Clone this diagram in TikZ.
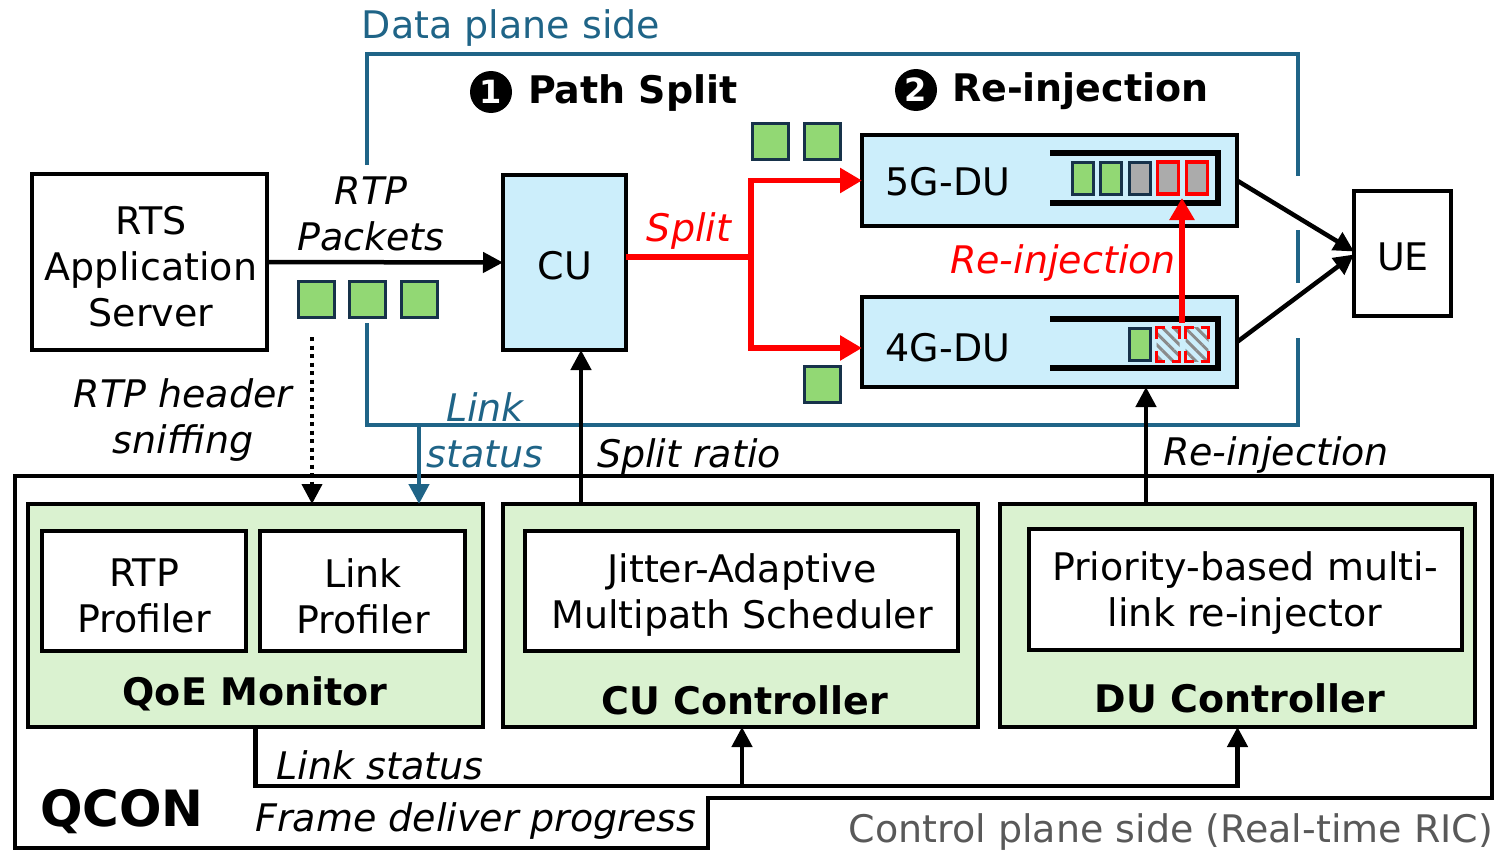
\documentclass[tikz,border=0pt]{standalone}
\usepackage{fontspec}
\setmainfont{DejaVu Sans}
\usetikzlibrary{arrows.meta,patterns.meta}
\definecolor{dpblue}{HTML}{1F6487}
\definecolor{cublue}{HTML}{CCEEFB}
\definecolor{ctlgreen}{HTML}{DAF2D0}
\definecolor{pktgreen}{HTML}{92D874}
\definecolor{pktedge}{HTML}{17324A}
\definecolor{pktgray}{HTML}{ABABAB}
\definecolor{hatchgray}{HTML}{8A8A8A}
\definecolor{ricgray}{HTML}{595959}
\newcommand\txt{\fontsize{38}{46}\selectfont}
\begin{document}
\begin{tikzpicture}[x=1pt,y=-1pt,
  every node/.style={font=\txt, inner sep=0pt, outer sep=0pt},
  box/.style={draw=black, line width=4pt},
  bluebox/.style={box, fill=cublue},
  ctlbox/.style={box, fill=ctlgreen},
  wbox/.style={box, fill=white},
  ml/.style={align=center},
  pkt/.style={draw=pktedge, fill=pktgreen, line width=3pt, minimum width=36pt, minimum height=36pt},
  qpkt/.style={draw=pktedge, fill=pktgreen, line width=3pt, minimum width=21pt, minimum height=32pt},
  qgray/.style={qpkt, fill=pktgray},
  qred/.style={qpkt, fill=pktgray, draw=red, line width=3.5pt},
  qhatch/.style={minimum width=23pt, minimum height=34pt, fill=white,
     pattern={Lines[angle=-45,distance=8pt,line width=3pt]}, pattern color=hatchgray},
  queue/.style={line width=6pt},
  blkarrow/.style={line width=4.5pt, -{Triangle[length=20pt,width=20pt]}},
  redarrow/.style={draw=red, line width=5.5pt, -{Triangle[length=22pt,width=24pt]}},
  redline/.style={draw=red, line width=5.5pt},
  bluearrow/.style={draw=dpblue, line width=4.5pt, -{Triangle[length=20pt,width=20pt]}},
  dotarrow/.style={line width=4pt, dash pattern=on 4pt off 4.5pt, -{Triangle[length=20pt,width=20pt]}},
  frame/.style={draw=dpblue, line width=4pt},
  badge/.style={circle, fill=black, minimum size=42pt, text=white, font=\fontsize{32}{32}\selectfont\bfseries},
  head/.style={font=\txt\bfseries, anchor=west},
  lbl/.style={font=\txt\itshape, align=center},
  corner/.style={draw=red, line width=3.5pt}
]
\useasboundingbox (0,0) rectangle (1497,851);

% ---------- data plane frame (open where the links pass) ----------
\node[dpblue] (dptitle) at (511,28) {Data plane side};
\draw[frame] (367,165) -- (367,54) -- (1298,54) -- (1298,176);
\draw[frame] (1298,230) -- (1298,283);
\draw[frame] (1298,338) -- (1298,425) -- (367,425) -- (367,323);

\node[badge] (b1) at (491,92) {1};
\node[head] (h1) at (528,93) {Path Split};
\node[badge] (b2) at (916,90) {2};
\node[head] (h2) at (952,91) {Re-injection};

% ---------- data plane nodes ----------
\node[box, minimum width=235pt, minimum height=176pt] (rts) at (149.5,262) {};
\node[ml] (rtst) at (151,267) {RTS\\Application\\Server};
\node[bluebox, minimum width=123pt, minimum height=175pt] (cu) at (564.5,262.5) {};
\node (cut) at (565,266) {CU};
\node[bluebox, minimum width=375pt, minimum height=91pt] (du5) at (1049.5,180.5) {};
\node[bluebox, minimum width=375pt, minimum height=90pt] (du4) at (1049.5,342) {};
\node[box, minimum width=97pt, minimum height=125pt] (ue) at (1402.5,253.5) {};
\node (uet) at (1403,257) {UE};
\node (du5t) at (948,182) {5G-DU};
\node (du4t) at (948,348) {4G-DU};

% queues inside the DUs
\draw[queue] (1050,153) -- (1218,153) -- (1218,203) -- (1050,203);
\draw[queue] (1050,319) -- (1218,319) -- (1218,368) -- (1050,368);
\node[qpkt]  (q51) at (1082.5,178) {};
\node[qpkt]  (q52) at (1111,178) {};
\node[qgray] (q53) at (1140,178) {};
\node[qred]  (q54) at (1168,178) {};
\node[qred]  (q55) at (1197,178) {};
\node[qpkt]  (q41) at (1140,344.5) {};
\node[qhatch] (q42) at (1168,344.5) {};
\node[qhatch] (q43) at (1197,344.5) {};
\foreach \n in {q42,q43}{
  \draw[corner] ([yshift=-11pt]\n.north west) -- (\n.north west) -- ([xshift=8pt]\n.north west);
  \draw[corner] ([xshift=-8pt]\n.north east) -- (\n.north east) -- ([yshift=-11pt]\n.north east);
  \draw[corner] ([yshift=11pt]\n.south west) -- (\n.south west) -- ([xshift=8pt]\n.south west);
  \draw[corner] ([xshift=-8pt]\n.south east) -- (\n.south east) -- ([yshift=11pt]\n.south east);
}

% packets in flight
\node[pkt] (p1) at (316,299) {};
\node[pkt] (p2) at (367,299) {};
\node[pkt] (p3) at (419,299) {};
\node[pkt] (p4) at (770.5,141) {};
\node[pkt] (p5) at (822.5,141) {};
\node[pkt] (p6) at (822.5,384.5) {};

% ---------- data plane links ----------
\draw[blkarrow] (rts.east) -- (cu.west);
\node[lbl] (rtpl) at (371,214) {RTP\\Packets};

\coordinate (fork) at (751,257);
\coordinate (lowarm) at ([yshift=-6pt]du4.west);
\draw[redline] (fork -| cu.east) -- (fork);
\draw[redline, line cap=rect] (du5.west -| fork) -- (lowarm -| fork);
\draw[redarrow] (du5.west -| fork) -- (du5.west);
\draw[redarrow] (lowarm -| fork) -- (lowarm);
\node[lbl, text=red] (splitl) at (689,231) {Split};

\coordinate (riup) at (1182,198);
\coordinate (rilo) at (1182,323);
\draw[redarrow] (rilo) -- (riup);
\node[lbl, text=red] (reinjl) at (1063,263) {Re-injection};

\draw[blkarrow] (du5.east) -- ([yshift=2pt]ue.west);
\draw[blkarrow] (du4.east) -- ([yshift=-1pt]ue.west);

% ---------- control plane (QCON) ----------
\draw[line width=4pt] (15,476) -- (1492,476) -- (1492,798) -- (708,798) -- (708,848) -- (15,848) -- cycle;
\node[text=ricgray, anchor=east] (ricl) at (1493,832) {Control plane side (Real-time RIC)};
\node[font=\fontsize{50}{50}\selectfont\bfseries] (qcon) at (122,812) {QCON};

\node[ctlbox, minimum width=455pt, minimum height=223pt] (qoe) at (255.5,615.5) {};
\node[wbox, minimum width=204pt, minimum height=120pt] (rtpp) at (144,591) {};
\node[ml] (rtppt) at (144,596) {RTP\\Profiler};
\node[wbox, minimum width=205pt, minimum height=120pt] (linkp) at (362.5,591) {};
\node[ml] (linkpt) at (363,596) {Link\\Profiler};
\node[font=\txt\bfseries] (qoel) at (255,694) {QoE Monitor};

\node[ctlbox, minimum width=475pt, minimum height=223pt] (cuctl) at (740.5,615.5) {};
\node[wbox, minimum width=433pt, minimum height=120pt] (jams) at (741.5,591) {};
\node[ml] (jamst) at (742,595) {Jitter-Adaptive\\Multipath Scheduler};
\node[font=\txt\bfseries] (cuctll) at (745,700) {CU Controller};

\node[ctlbox, minimum width=475pt, minimum height=223pt] (ductl) at (1237.5,615.5) {};
\node[wbox, minimum width=433pt, minimum height=121pt] (pri) at (1245.5,589.5) {};
\node[ml] (prit) at (1245,593) {Priority-based multi-\\link re-injector};
\node[font=\txt\bfseries] (ductll) at (1240,698) {DU Controller};

% ---------- links between the planes ----------
\coordinate (sniff) at (312,337);
\draw[dotarrow] (sniff) -- (sniff |- qoe.north);
\node[lbl] (sniffl) at (183,420) {RTP header\\sniffing};

\coordinate (lsb) at (419,425);
\draw[bluearrow] (lsb) -- (lsb |- qoe.north);
\node[lbl, text=dpblue] (lsl) at (485,430) {Link\\status};

\coordinate (sr) at (581,0);
\draw[blkarrow] (cuctl.north -| sr) -- (cu.south -| sr);
\node[lbl] (srl) at (689,457) {Split ratio};

\coordinate (ri) at (1146,0);
\draw[blkarrow] (ductl.north -| ri) -- (du4.south -| ri);
\node[lbl] (ril) at (1276,455) {Re-injection};

% feedback bus from the QoE monitor
\coordinate (busL) at (255.5,786);
\coordinate (busM) at (742,786);
\coordinate (busR) at (1237.5,786);
\draw[blkarrow] (qoe.south) -- (busL) -- (busR) -- (ductl.south);
\draw[blkarrow] (busM) -- (busM |- cuctl.south);
\node[lbl] (fbl1) at (380,765) {Link status};
\node[lbl] (fbl2) at (476,821) {Frame deliver progress};
\end{tikzpicture}
\end{document}
